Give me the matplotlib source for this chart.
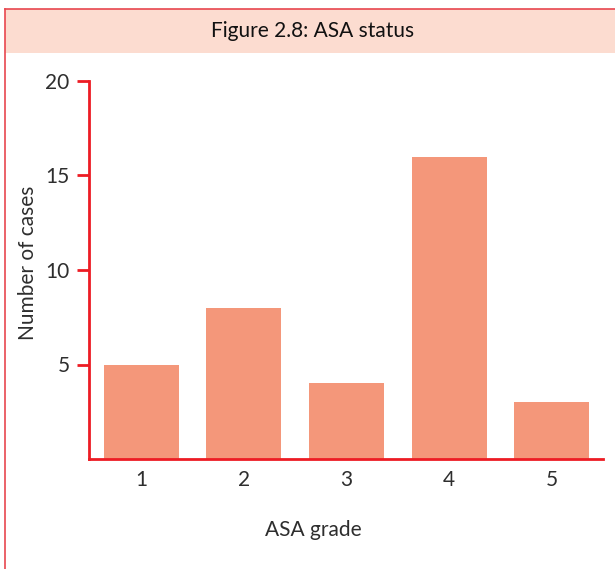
import matplotlib
matplotlib.use("Agg")
import matplotlib.pyplot as plt
from matplotlib.patches import Rectangle
from matplotlib.lines import Line2D

# ASA grade counts
grades = [1, 2, 3, 4, 5]
cases = [5, 8, 4, 16, 3]
yticks = [5, 10, 15, 20]

red = "#ED1C24"
bar_col = "#F4977A"
band_col = "#FCDCD0"
text_col = "#2E2E2E"

plt.rcParams["font.family"] = ["Lato", "DejaVu Sans"]

fig = plt.figure(figsize=(6.15, 5.69), dpi=100)

# title band and frame
fig.add_artist(Rectangle((5 / 615, 1 - 53 / 569), 1, 44 / 569,
                         transform=fig.transFigure, facecolor=band_col,
                         edgecolor="none"))
fig.add_artist(Line2D([5 / 615, 5 / 615], [0, 1 - 9 / 569],
                      transform=fig.transFigure, color="#E8474F", lw=1.2))
fig.add_artist(Line2D([5 / 615, 1], [1 - 9 / 569, 1 - 9 / 569],
                      transform=fig.transFigure, color="#E8474F", lw=1.2))
fig.text(313 / 615, 1 - 31 / 569, "Figure 2.8: ASA status", ha="center",
         va="center", fontsize=15, color="#111111")

ax = fig.add_axes([89 / 615, 1 - 459 / 569, 514 / 615, 378 / 569])
ax.bar(grades, cases, width=0.73, color=bar_col, zorder=2)

ax.set_xlim(0.49, 5.5)
ax.set_ylim(0, 20)
ax.set_xticks(grades)
ax.set_yticks(yticks)
ax.tick_params(axis="x", length=0, pad=8, labelsize=15, labelcolor=text_col)
ax.tick_params(axis="y", length=9, width=2, color=red, pad=5,
               labelsize=15, labelcolor=text_col)

for side in ["top", "right"]:
    ax.spines[side].set_visible(False)
for side in ["left", "bottom"]:
    ax.spines[side].set_color(red)
    ax.spines[side].set_linewidth(2)

fig.text(28 / 615, 1 - 263 / 569, "Number of cases", rotation=90,
         ha="center", va="center", fontsize=15, color=text_col)
fig.text(313 / 615, 1 - 530 / 569, "ASA grade", ha="center", va="center",
         fontsize=15, color=text_col)

fig.savefig("out.png", dpi=100)
